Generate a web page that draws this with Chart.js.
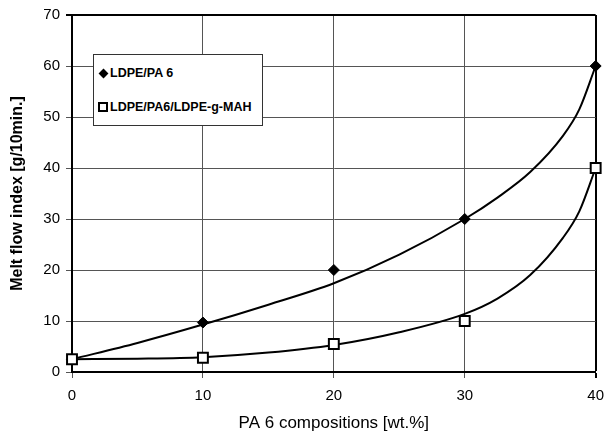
<!DOCTYPE html>
<html>

<head>
    <title>Melt flow index</title>
    <script src="https://cdn.jsdelivr.net/npm/chart.js"></script>
    <style>
        body {
            margin: 0;
            background: white;
            font-family: 'Liberation Sans', Arial, sans-serif;
        }

        .wrap {
            position: relative;
            width: 613px;
            height: 441px;
        }

        .legend {
            position: absolute;
            left: 93px;
            top: 54px;
            width: 168px;
            height: 70px;
            border: 1px solid #333;
            background: white;
            font-weight: bold;
            font-size: 12.5px;
        }

        .legend-item {
            position: absolute;
            left: 4px;
            display: flex;
            align-items: center;
            white-space: nowrap;
        }

        .mark {
            display: inline-block;
            margin-right: 2px;
            box-sizing: border-box;
        }

        .mark.diamond {
            width: 7px;
            height: 7px;
            background: black;
            transform: rotate(45deg);
            margin-left: 2px;
            margin-right: 3px;
        }

        .mark.square {
            width: 10px;
            height: 10px;
            border: 2px solid black;
            background: white;
        }
    </style>
</head>

<body>
    <div class="wrap">
        <canvas id="mfiChart" width="613" height="441"></canvas>
        <div class="legend" id="legend"></div>
    </div>

    <script>
        // measured points
        const compositions = [0, 10, 20, 30, 40];
        const mfiBlend = [2.5, 9.7, 20, 30, 60];
        const mfiCompat = [2.5, 2.8, 5.5, 10, 40];

        // trend curves read along each fit
        const trendX = [0, 5, 10, 15, 20, 25, 30, 32.5, 35, 37.5, 38.75, 40];
        const trendBlend = [2.5, 5.7, 9.3, 13.2, 17.4, 23.0, 30, 34.2, 39.2, 46.3, 51.5, 60];
        const trendCompat = [2.5, 2.6, 2.9, 3.8, 5.3, 7.8, 11.4, 14.4, 19, 26.3, 31.5, 40];

        const seriesLabels = ['LDPE/PA 6', 'LDPE/PA6/LDPE-g-MAH'];

        const font = "'Liberation Sans', Arial, sans-serif";

        function pairs(xs, ys) {
            return xs.map((x, i) => ({ x: x, y: ys[i] }));
        }

        function trend(ys) {
            return {
                data: pairs(trendX, ys),
                showLine: true,
                borderColor: '#000',
                borderWidth: 2,
                pointRadius: 0,
                cubicInterpolationMode: 'monotone',
                fill: false,
                clip: false,
                order: 3
            };
        }

        const gridColor = (max) => (ctx) => ctx.tick && ctx.tick.value === max ? '#000' : '#555';
        const gridWidth = (max) => (ctx) => ctx.tick && ctx.tick.value === max ? 2 : 1;

        const ctx = document.getElementById('mfiChart').getContext('2d');
        new Chart(ctx, {
            type: 'scatter',
            data: {
                datasets: [
                    trend(trendBlend),
                    trend(trendCompat),
                    {
                        label: seriesLabels[0],
                        data: pairs(compositions, mfiBlend),
                        pointStyle: 'rectRot',
                        pointRadius: 5.5,
                        backgroundColor: '#000',
                        borderColor: '#000',
                        borderWidth: 1,
                        clip: false,
                        order: 2
                    },
                    {
                        label: seriesLabels[1],
                        data: pairs(compositions, mfiCompat),
                        pointStyle: 'rect',
                        pointRadius: 7,
                        backgroundColor: '#fff',
                        borderColor: '#000',
                        borderWidth: 2,
                        clip: false,
                        order: 1
                    }
                ]
            },
            options: {
                responsive: false,
                animation: false,
                layout: { padding: { top: 15, right: 16, left: 0, bottom: 0 } },
                plugins: {
                    legend: { display: false },
                    tooltip: { enabled: false }
                },
                scales: {
                    x: {
                        type: 'linear',
                        min: 0,
                        max: 40,
                        ticks: {
                            stepSize: 10,
                            color: '#000',
                            padding: 9,
                            font: { family: font, size: 15 }
                        },
                        grid: {
                            color: gridColor(40),
                            lineWidth: gridWidth(40),
                            tickLength: 6
                        },
                        border: { color: '#000', width: 2 },
                        title: {
                            display: true,
                            text: 'PA 6 compositions [wt.%]',
                            color: '#000',
                            font: { family: font, size: 17 },
                            padding: { top: 0, bottom: 7 }
                        },
                        afterFit: (scale) => { scale.height = 69; }
                    },
                    y: {
                        min: 0,
                        max: 70,
                        ticks: {
                            stepSize: 10,
                            color: '#000',
                            padding: 6,
                            font: { family: font, size: 15 }
                        },
                        grid: {
                            color: gridColor(70),
                            lineWidth: gridWidth(70),
                            tickLength: 6
                        },
                        border: { color: '#000', width: 2 },
                        title: {
                            display: true,
                            text: 'Melt flow index [g/10min.]',
                            color: '#000',
                            font: { family: font, size: 16, weight: 'bold' },
                            padding: { top: 8, bottom: 0 }
                        },
                        afterFit: (scale) => { scale.width = 72; }
                    }
                }
            }
        });

        // legend box inside the plot
        const legend = document.getElementById('legend');
        const marks = ['diamond', 'square'];
        const tops = [11, 45];
        seriesLabels.forEach((label, i) => {
            const item = document.createElement('div');
            item.className = 'legend-item';
            item.style.top = tops[i] + 'px';
            item.innerHTML = `<span class="mark ${marks[i]}"></span><span>${label}</span>`;
            legend.appendChild(item);
        });
    </script>
</body>

</html>
